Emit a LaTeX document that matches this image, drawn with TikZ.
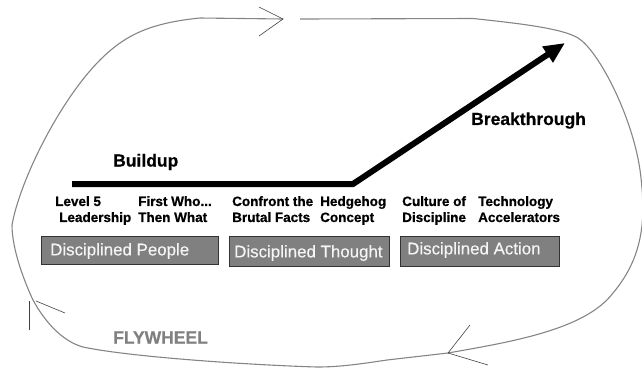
\documentclass[tikz,border=0pt]{standalone}
\usepackage{fontspec}
\setmainfont[BoldFeatures={FakeBold=0.6}]{Liberation Sans}
\usetikzlibrary{arrows.meta}
\tikzset{
  x=1pt,y=-1pt,
  wheel/.style={draw=black!48,line width=1.1pt,line join=round},
  tick/.style={draw=black!75,line width=0.6pt},
  heading/.style={inner sep=0pt,anchor=west,font=\fontsize{17.5}{20}\selectfont\bfseries},
  small/.style={inner sep=0pt,anchor=north west,align=left,font=\fontsize{13.5}{16}\selectfont\bfseries},
  pillar/.style={draw=black!80,fill=black!50,line width=0.8pt,minimum height=28pt,inner sep=0pt,anchor=north west},
  pillartext/.style={inner sep=0pt,anchor=west,text=black!4,font=\fontsize{16.9}{20}\selectfont\addfontfeatures{FakeBold=0.3}},
}
\begin{document}
\begin{tikzpicture}
\useasboundingbox (0,0) rectangle (642,368);
% flywheel loop
\draw[wheel] (300,19) -- (473,18.5)
  .. controls (515,23) and (562,28) .. (578,38)
  .. controls (598,50) and (632,115) .. (640,170)
  .. controls (646,215) and (645,255) .. (613,293)
  .. controls (585,330) and (510,342) .. (448,353)
  -- (387,360)
  .. controls (360,364) and (340,367) .. (317,367)
  .. controls (250,365) and (130,357) .. (83,347)
  .. controls (62,341) and (45,322) .. (33,300)
  .. controls (25,283) and (12,250) .. (12,225)
  .. controls (20,180) and (60,100) .. (100,60)
  .. controls (125,35) and (150,23) .. (200,18)
  -- (283,19);
% flywheel arrowheads
\coordinate (tA) at (283,19);
\coordinate (aA1) at (259,7);
\coordinate (aA2) at (259,36);
\draw[tick] (aA1) -- (tA) -- (aA2);
\coordinate (tB) at (448,353);
\coordinate (aB1) at (470,325);
\coordinate (aB2) at (488,365);
\draw[tick] (aB1) -- (tB) -- (aB2);
\coordinate (aC1) at (29.5,301);
\coordinate (aC2) at (29.5,330);
\coordinate (aC3) at (36,301);
\coordinate (aC4) at (65,313);
\draw[tick] (aC1) -- (aC2);
\draw[tick] (aC3) -- (aC4);
% main line
\coordinate (start) at (72,184);
\coordinate (knee) at (353,184);
\coordinate (tip) at (565,43);
\draw[line width=6pt,line join=miter,-{Triangle[length=21pt,width=18pt]}] (start) -- (knee) -- (tip);
% headings
\node[heading] (buildup) at (113,162) {Buildup};
\node[heading] (breakthrough) at (471,120.5) {Breakthrough};
\node[heading,text=black!50] (flywheel) at (113,337.5) {FLYWHEEL};
% small labels
\node[small] (l5) at (55,196) {Level 5\\[0pt]\hspace*{4pt}Leadership};
\node[small] (fw) at (138,196) {First Who...\\Then What};
\node[small] (cb) at (232,196) {Confront the\\Brutal Facts};
\node[small] (hc) at (320,196) {Hedgehog\\Concept};
\node[small] (cd) at (402,196) {Culture of\\Discipline};
\node[small] (ta) at (478,196) {Technology\\Accelerators};
% pillars
\node[pillar,minimum width=177pt] (p1) at (41,236) {};
\node[pillar,minimum width=160pt,minimum height=30pt] (p2) at (229,236) {};
\node[pillar,minimum width=159pt,minimum height=30pt] (p3) at (400,236) {};
\node[pillartext] (t1) at (50,251) {Disciplined People};
\node[pillartext] (t2) at (234,253) {Disciplined Thought};
\node[pillartext] (t3) at (407,250) {Disciplined Action};
\end{tikzpicture}
\end{document}
